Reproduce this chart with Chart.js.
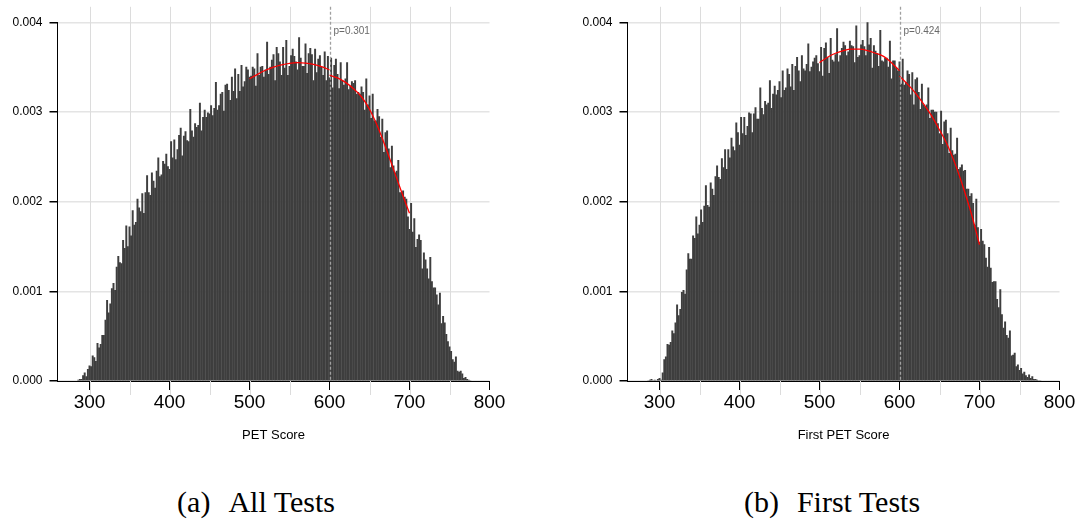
<!DOCTYPE html>
<html><head><meta charset="utf-8">
<script src="https://cdn.jsdelivr.net/npm/chart.js@4.4.1/dist/chart.umd.min.js"></script>
<style>
html,body{margin:0;padding:0;background:#fff;width:1081px;height:522px;overflow:hidden;}
.panel{position:absolute;top:0;width:540px;height:460px;}
.cap{position:absolute;top:487px;font-family:"Liberation Serif","Times New Roman",serif;font-size:30px;color:#000;white-space:pre;transform:translateX(-50%);line-height:1;}
.cap span{margin-left:18px;}
</style></head>
<body>
<div class="panel" style="left:0px"><canvas id="c1" width="540" height="460"></canvas></div>
<div class="panel" style="left:570px"><canvas id="c2" width="540" height="460"></canvas></div>
<div class="cap" style="left:256px">(a)<span>All Tests</span></div>
<div class="cap" style="left:832px">(b)<span>First Tests</span></div>
<script>
// score bins (x positions)
const scores = [
286,288,
290,292,294,296,298, 300,302,304,306,308, 310,312,314,316,318, 320,322,324,326,328,
330,332,334,336,338, 340,342,344,346,348, 350,352,354,356,358, 360,362,364,366,368,
370,372,374,376,378, 380,382,384,386,388, 390,392,394,396,398, 400,402,404,406,408,
410,412,414,416,418, 420,422,424,426,428, 430,432,434,436,438, 440,442,444,446,448,
450,452,454,456,458, 460,462,464,466,468, 470,472,474,476,478, 480,482,484,486,488,
490,492,494,496,498, 500,502,504,506,508, 510,512,514,516,518, 520,522,524,526,528,
530,532,534,536,538, 540,542,544,546,548, 550,552,554,556,558, 560,562,564,566,568,
570,572,574,576,578, 580,582,584,586,588, 590,592,594,596,598, 600,602,604,606,608,
610,612,614,616,618, 620,622,624,626,628, 630,632,634,636,638, 640,642,644,646,648,
650,652,654,656,658, 660,662,664,666,668, 670,672,674,676,678, 680,682,684,686,688,
690,692,694,696,698, 700,702,704,706,708, 710,712,714,716,718, 720,722,724,726,728,
730,732,734,736,738, 740,742,744,746,748, 750,752,754,756,758, 760,762,764,766,768,
770,772,774,776];

// density x 1e5, all tests
const densityAllE5 = [
1,2,
2,6,9,5,13, 17,16,28,26,22, 42,37,41,51,51, 68,90,76,86,103,
109,101,127,139,132, 131,157,148,173,150, 172,162,190,174,177, 203,193,189,209,187,
210,229,210,207,232, 223,215,234,249,228, 230,245,242,253,239, 236,267,249,269,247,
258,274,282,251,273, 278,268,267,303,279, 272,287,283,285,310, 279,294,302,294,299,
298,307,296,304,333, 302,307,320,322,301, 330,331,324,313,339, 323,348,315,342,323,
352,328,334,350,347, 339,340,350,348,329, 365,341,350,351,339, 347,378,342,350,358,
364,335,372,365,356, 341,372,349,380,341, 351,363,370,362,356, 347,383,360,351,351,
376,343,365,371,364, 335,370,344,359,363, 350,341,367,335,362, 338,360,327,352,359,
342,326,355,335,330, 337,355,325,329,334, 332,335,320,322,320, 328,322,302,337,308,
318,293,320,290,290, 303,295,272,292,255, 277,279,259,238,262, 240,232,234,246,210,
210,212,205,203,183, 169,198,166,181,149, 158,163,157,125,143, 135,125,114,138,111,
104,104,96,85,98, 64,72,65,52,44, 38,33,24,21,27, 11,10,11,8,3,
4,2,1,0];

// density x 1e5, first tests
const densityFirstE5 = [
0,1,
2,0,1,0,2, 3,1,9,24,27, 41,40,43,56,53, 65,85,73,80,99,
101,97,124,142,136, 136,162,159,183,164, 174,191,177,195,218, 196,194,221,214,207,
228,240,227,225,248, 238,258,236,258,249, 271,261,257,288,277, 263,294,276,294,274,
284,299,298,277,298, 305,292,292,327,304, 297,312,308,310,335, 304,320,329,319,324,
334,316,346,324,327, 348,342,328,353,324, 351,361,346,334,363, 348,346,353,376,345,
350,356,360,363,354, 345,372,340,371,377, 361,343,382,358,356, 364,393,356,363,371,
378,374,363,367,379, 374,373,355,396,361, 363,375,380,373,363, 400,375,382,349,374,
368,365,351,391,357, 356,360,360,350,379, 337,357,357,349,346, 356,331,359,330,333,
346,342,319,344,308, 336,338,322,303,331, 308,306,308,327,293, 302,302,300,300,287,
276,301,264,289,291, 276,254,282,257,252, 253,271,236,238,241, 234,235,214,214,206,
209,198,174,203,171, 155,169,156,152,137, 127,149,126,110,111, 111,91,82,102,74,
59,66,51,48,56, 28,29,31,16,18, 12,14,8,10,6, 4,7,3,5,2,
2,1,0,0];

// fitted curves (x 1e5)
const fitX_left  = [500,510,520,530,540,550,560,570,580,590,600];
const fitX_right = [600,610,620,630,640,650,660,670,680,690,700];
const fitAllLeftE5   = [337,342,346.5,350,352.5,354.3,355,354.5,353,350.5,347];
const fitAllRightE5  = [341,338,333,326,317,303,284,261,236,211,187];
const fitFirstLeftE5 = [355,361,365.5,368.5,370,370,368.5,365.5,362,355,346];
const fitFirstRightE5= [340,331,321,309,296,280,263,241,215,186,152];

const cutoff = 600;
const pLabelAll = 'p=0.301';
const pLabelFirst = 'p=0.424';

const xTickValues = [300,350,400,450,500,550,600,650,700,750,800];
const xTickLabels = ['300','','400','','500','','600','','700','','800'];
const xGridValues = [300,350,400,450,500,550,600,650,700,750];
const yTickValues = [0,0.001,0.002,0.003,0.004];
const yTickLabels = ['0.000','0.001','0.002','0.003','0.004'];

const FONT = "'Liberation Sans', Arial, Helvetica, sans-serif";

function makePlugin(pLabel){
  return {
    id:'extras',
    beforeDatasetsDraw(chart){
      const {ctx, chartArea:a, scales:{x}} = chart;
      ctx.save();
      ctx.strokeStyle = '#dcdcdc';
      ctx.lineWidth = 1;
      xGridValues.forEach(v=>{
        if (v === cutoff) return;
        const px = Math.round(x.getPixelForValue(v)) + 0.5;
        ctx.beginPath();
        ctx.moveTo(px, a.top - 15.5);
        ctx.lineTo(px, a.bottom + 14);
        ctx.stroke();
      });
      ctx.restore();
    },
    afterDatasetsDraw(chart){
      const {ctx, chartArea:a, scales:{x}} = chart;
      const px = Math.round(x.getPixelForValue(cutoff)) + 0.5;
      ctx.save();
      ctx.strokeStyle = '#a0a0a0';
      ctx.lineWidth = 1.3;
      ctx.setLineDash([3,2]);
      ctx.beginPath();
      ctx.moveTo(px, a.top - 15.5);
      ctx.lineTo(px, a.bottom);
      ctx.stroke();
      ctx.setLineDash([]);
      ctx.fillStyle = '#6a6a6a';
      ctx.font = '10px ' + FONT;
      ctx.textAlign = 'left';
      ctx.textBaseline = 'middle';
      ctx.fillText(pLabel, px + 3, a.top + 9);
      ctx.restore();
    }
  };
}

function makeChart(id, dens, fitL, fitR, pLabel, xTitle){
  return new Chart(document.getElementById(id), {
    type:'bar',
    data:{datasets:[
      {type:'line', data: fitX_left.map((v,i)=>({x:v, y:fitL[i]/1e5})), borderColor:'#ff0000', borderWidth:1.3,
       pointRadius:0, cubicInterpolationMode:'monotone', fill:false, order:0},
      {type:'line', data: fitX_right.map((v,i)=>({x:v, y:fitR[i]/1e5})), borderColor:'#ff0000', borderWidth:1.3,
       pointRadius:0, cubicInterpolationMode:'monotone', fill:false, order:0},
      {type:'bar', data: scores.map((s,i)=>({x:s, y:dens[i]/1e5})), backgroundColor:'#3e3e3e',
       borderWidth:0, barThickness:1.3, order:1}
    ]},
    options:{
      responsive:false, animation:false, devicePixelRatio:1,
      layout:{padding:{top:22.3, right:50.5, left:0, bottom:0}},
      plugins:{legend:{display:false}, tooltip:{enabled:false}},
      scales:{
        x:{type:'linear', min:260, max:800, offset:false,
          afterBuildTicks: s=>{ s.ticks = xTickValues.map(v=>({value:v})); },
          afterFit: s=>{ s.height = 79; },
          grid:{drawOnChartArea:false, drawTicks:true, tickLength:9, offset:false,
            tickColor: c => (c.tick && c.tick.value % 100 === 0) ? '#000' : 'rgba(0,0,0,0)'},
          border:{display:true, color:'#000', width:1},
          ticks:{font:{family:FONT, size:19}, color:'#000', padding:1, maxRotation:0, autoSkip:false,
            callback:(v,i)=>xTickLabels[i]},
          title:{display:true, text:xTitle, color:'#000', font:{family:FONT, size:13}, padding:{top:0, bottom:17}}
        },
        y:{min:0, max:0.004,
          afterBuildTicks: s=>{ s.ticks = yTickValues.map(v=>({value:v})); },
          afterFit: s=>{ s.width = 57.5; },
          grid:{color:'#e4e4e4', lineWidth:1.5, tickColor:'#000', tickLength:8, drawTicks:true},
          border:{display:true, color:'#000', width:1},
          ticks:{font:{family:FONT, size:12}, color:'#000', padding:7, callback:(v,i)=>yTickLabels[i]}
        }
      }
    },
    plugins:[makePlugin(pLabel)]
  });
}

makeChart('c1', densityAllE5, fitAllLeftE5, fitAllRightE5, pLabelAll, 'PET Score');
makeChart('c2', densityFirstE5, fitFirstLeftE5, fitFirstRightE5, pLabelFirst, 'First PET Score');
</script>
</body></html>
